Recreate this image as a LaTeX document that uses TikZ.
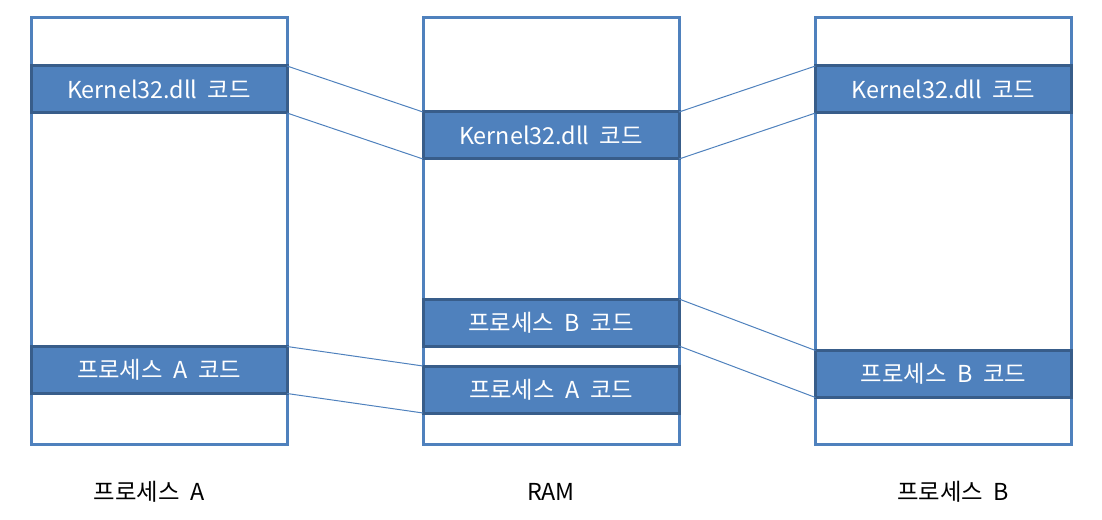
\documentclass[tikz,border=0pt]{standalone}
\usepackage{fontspec}
\setmainfont{Noto Sans CJK KR}[WordSpace=2]
\usetikzlibrary{calc}
\definecolor{frameblue}{HTML}{4F81BD}
\definecolor{boxedge}{HTML}{385D8A}
\tikzstyle{space} = [draw=frameblue,line width=2.25pt,fill=white,minimum width=192pt,minimum height=319.5pt,inner sep=0pt,outer sep=0pt]
\tikzstyle{codebox} = [draw=boxedge,line width=2.25pt,fill=frameblue,text=white,font=\fontsize{17.5}{20}\selectfont,minimum width=192pt,minimum height=35.25pt,inner sep=0pt,outer sep=0pt]
\tikzstyle{map} = [draw=frameblue,line width=0.75pt,-]
\tikzstyle{caption} = [font=\fontsize{17.5}{20}\selectfont]

\begin{document}
\begin{tikzpicture}[x=0.75pt,y=-0.75pt]
        \useasboundingbox (0,0) rectangle (1102,520);
        % address spaces
        \node[space] (pa) at (159,231) {};
        \node[space] (ram) at (551,231) {};
        \node[space] (pb) at (943.5,231) {};

        % code blocks
        \node[codebox] (pa_k) at (159,89.5) {Kernel32.dll 코드};
        \node[codebox] (pa_a) at (159,370) {프로세스 A 코드};
        \node[codebox] (ram_k) at (551,135.5) {Kernel32.dll 코드};
        \node[codebox] (ram_b) at (551,322.5) {프로세스 B 코드};
        \node[codebox] (ram_a) at (551,389.5) {프로세스 A 코드};
        \node[codebox] (pb_k) at (943.5,89.5) {Kernel32.dll 코드};
        \node[codebox] (pb_b) at (943.5,374) {프로세스 B 코드};

        % mappings
        \path[map] (pa_k.north east) -- (ram_k.north west);
        \path[map] (pa_k.south east) -- (ram_k.south west);
        \path[map] (pa_a.north east) -- (ram_a.north west);
        \path[map] (pa_a.south east) -- (ram_a.south west);
        \path[map] (ram_k.north east) -- (pb_k.north west);
        \path[map] (ram_k.south east) -- (pb_k.south west);
        \path[map] (ram_b.north east) -- (pb_b.north west);
        \path[map] (ram_b.south east) -- (pb_b.south west);

        % captions
        \node[caption] (pa_label) at (149,492) {프로세스 A};
        \node[caption] (ram_label) at (551,492) {RAM};
        \node[caption] (pb_label) at (953,492) {프로세스 B};
    \end{tikzpicture}
\end{document}
